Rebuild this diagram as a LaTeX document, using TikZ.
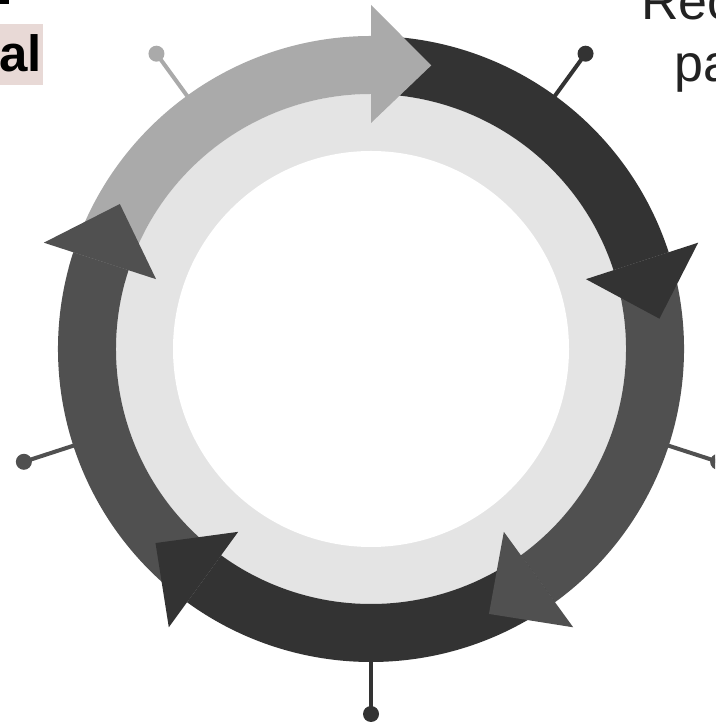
\documentclass[tikz,border=0pt]{standalone}
\usepackage{fontspec}
\setmainfont{Liberation Sans}
\definecolor{cdark}{HTML}{333333}
\definecolor{cmed}{HTML}{505050}
\definecolor{clight}{HTML}{AAAAAA}
\definecolor{cring}{HTML}{E4E4E4}
\definecolor{chl}{HTML}{E8D9D6}
\definecolor{ctext}{HTML}{222222}
\tikzset{
  pinline/.style={line width=4pt},
  pindot/.style={circle, inner sep=0pt, minimum size=16pt},
  lbl/.style={inner sep=0pt, font=\fontsize{52}{62}\selectfont, text=ctext},
}
\newcommand{\band}[3]{% color, start angle, end angle
  \fill[#1] (#2:255) arc[start angle=#2, end angle=#3, radius=255] -- (#3:313) arc[start angle=#3, end angle=#2, radius=313] -- cycle;}
\newcommand{\ahead}[2]{% color, base angle
  \fill[#1] (#2:226) -- (#2:344) -- ({#2-12}:290) -- cycle;}
\newcommand{\pinat}[3]{% color, angle, name
  \draw[pinline, #1] (#2:300) -- (#2:365);
  \node[pindot, fill=#1] (#3) at (#2:365) {};}
\begin{document}
\begin{tikzpicture}[x=1pt,y=1pt]
\useasboundingbox (0,0) rectangle (715,727);
\clip (0,0) rectangle (715,727);
\fill[white] (0,0) rectangle (715,727);
% texts
\fill[chl] (0,642) rectangle (43,703);
\node[lbl, anchor=base east, text=black, font=\fontsize{51}{60}\selectfont\bfseries] (al) at (42,655) {al};
\fill[black] (0,723) rectangle (9,727);
\node[lbl, anchor=base west] (rec) at (641,707) {Rec};
\node[lbl, anchor=base west] (pa) at (674,645) {pa};
\begin{scope}[shift={(371,378)}]
  % pins
  \pinat{clight}{126}{p1}
  \pinat{cdark}{54}{p2}
  \pinat{cmed}{-18}{p3}
  \pinat{cdark}{-90}{p4}
  \pinat{cmed}{198}{p5}
  % inner rings
  \fill[cring] (0,0) circle[radius=255];
  \fill[white] (0,0) circle[radius=198];
  % bands
  \band{clight}{165}{90}
  \band{cdark}{90}{18}
  \band{cmed}{18}{-54}
  \band{cdark}{-54}{-126}
  \band{cmed}{-126}{-198}
  % heads
  \ahead{clight}{90}
  \ahead{cdark}{18}
  \ahead{cmed}{-54}
  \ahead{cdark}{-126}
  \ahead{cmed}{162}
\end{scope}
\end{tikzpicture}
\end{document}
